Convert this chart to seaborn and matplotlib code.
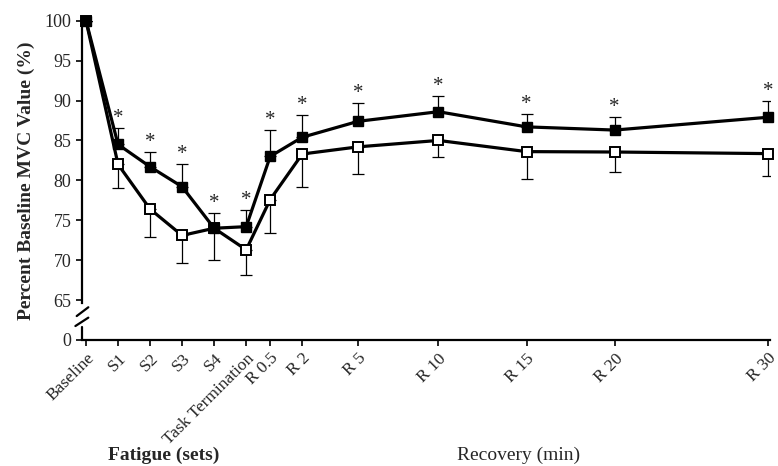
import matplotlib
matplotlib.use("Agg")
import matplotlib.pyplot as plt
import seaborn as sns
import numpy as np
import pandas as pd

# ---- data ----
labels = ["Baseline", "S1", "S2", "S3", "S4", "Task Termination",
          "R 0.5", "R 2", "R 5", "R 10", "R 15", "R 20", "R 30"]
x_pos = [0, 1, 2, 3, 4, 5, 5.75, 6.75, 8.5, 11, 13.75, 16.5, 21.28]
filled_vals = [100, 84.5, 81.7, 79.2, 74.0, 74.2, 83.0, 85.4, 87.4, 88.6, 86.7, 86.3, 87.9]
filled_err = [0, 2.0, 1.85, 2.85, 1.9, 2.05, 3.25, 2.75, 2.35, 1.95, 1.6, 1.6, 2.0]
open_vals = [100, 82.0, 76.4, 73.1, 74.0, 71.3, 77.6, 83.3, 84.2, 85.0, 83.6, 83.55, 83.35]
open_err = [0, 2.9, 3.5, 3.5, 4.0, 3.1, 4.15, 4.1, 3.35, 2.05, 3.4, 2.45, 2.8]
signif = [False] + [True] * 12
y_ticks = [60, 65, 70, 75, 80, 85, 90, 95, 100]
y_ticklabels = ["0", "65", "70", "75", "80", "85", "90", "95", "100"]

df = pd.DataFrame({"x": x_pos * 2,
                   "value": filled_vals + open_vals,
                   "group": ["filled"] * len(x_pos) + ["open"] * len(x_pos)})

sns.set_style("ticks")
plt.rcParams["font.family"] = ["Liberation Serif", "DejaVu Serif"]

fig = plt.figure(figsize=(7.78, 4.66), dpi=100)
W, H = 778, 466
ax = fig.add_axes([82 / W, 1 - 340 / H, (770 - 82) / W, (340 - 20.7) / H])

# error bars (one-sided)
ax.errorbar(x_pos, open_vals, yerr=[open_err, [0] * len(open_err)], fmt="none",
            ecolor="black", elinewidth=0.9, capsize=4.2, capthick=0.9, zorder=2)
ax.errorbar(x_pos, filled_vals, yerr=[[0] * len(filled_err), filled_err], fmt="none",
            ecolor="black", elinewidth=0.9, capsize=4.2, capthick=0.9, zorder=2)

sns.lineplot(data=df[df.group == "open"], x="x", y="value", ax=ax, color="black",
             lw=2.3, marker="s", markersize=7, markerfacecolor="white",
             markeredgecolor="black", markeredgewidth=1.4, zorder=3, clip_on=False)
sns.lineplot(data=df[df.group == "filled"], x="x", y="value", ax=ax, color="black",
             lw=2.3, marker="s", markersize=7, markerfacecolor="black",
             markeredgecolor="black", markeredgewidth=1.0, zorder=4, clip_on=False)

# asterisks
for xi, yi, ei, s in zip(x_pos, filled_vals, filled_err, signif):
    if s:
        ax.annotate("*", (xi, yi + ei), xytext=(0, 0), textcoords="offset points",
                    ha="center", va="bottom", fontsize=15)

ax.set_xlim(-0.125, 21.35)
ax.set_ylim(60, 100)
ax.set_xticks(x_pos)
ax.set_xticklabels(labels, rotation=45, ha="right", rotation_mode="anchor", fontsize=12.5)
ax.set_yticks(y_ticks)
ax.set_yticklabels(y_ticklabels, fontsize=13)
ax.tick_params(axis="both", direction="out", length=4.5, width=1.2, color="black", pad=3)
ax.set_xlabel("")
ax.set_ylabel("Percent Baseline MVC Value (%)", fontsize=14, fontweight="bold", labelpad=7)

for side in ["top", "right"]:
    ax.spines[side].set_visible(False)
ax.spines["bottom"].set_linewidth(1.6)
ax.spines["bottom"].set_color("black")
ax.spines["left"].set_linewidth(1.6)
ax.spines["left"].set_color("black")
ax.spines["left"].set_bounds(64.6, 100)

# lower spine piece and break marks
yt = ax.get_yaxis_transform()
ax.plot([0, 0], [60, 61.6], transform=yt, color="black", lw=1.6, clip_on=False)
ax.plot([-0.0077, 0.0092], [63.0, 64.1], transform=yt, color="black", lw=1.6, clip_on=False)
ax.plot([-0.0096, 0.0092], [61.75, 62.8], transform=yt, color="black", lw=1.6, clip_on=False)

fig.text(164 / W, 1 - 455 / H, "Fatigue (sets)", ha="center", va="center",
         fontsize=14, fontweight="bold")
fig.text(519 / W, 1 - 455 / H, "Recovery (min)", ha="center", va="center",
         fontsize=14)

fig.savefig("out.png", dpi=100)
